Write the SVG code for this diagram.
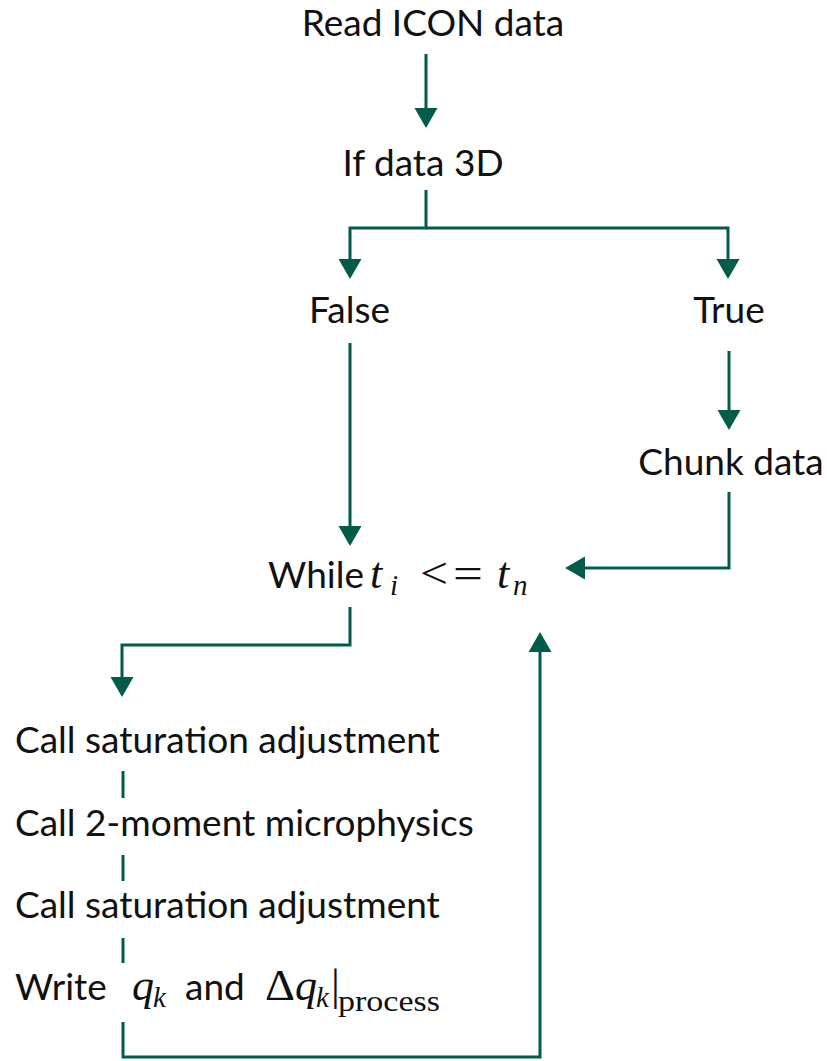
<svg xmlns="http://www.w3.org/2000/svg" width="827" height="1061" viewBox="0 0 827 1061">
<style>
.lbl{font-family:Lato,"Noto Sans","Liberation Sans",sans-serif;font-size:37px;fill:#111}
.m{font-family:"Liberation Serif","DejaVu Serif",serif;fill:#111;font-size:44px}
.s{font-size:29px}
.mi{font-style:italic}
.c{fill:none;stroke:#035c4a;stroke-width:3}
</style>
<defs>
<marker id="ah" markerUnits="userSpaceOnUse" markerWidth="20" markerHeight="24" refX="10" refY="11.5" orient="auto">
<path d="M0,0 L20,11.5 L0,23 z" fill="#035c4a"/>
</marker>
</defs>
<rect width="827" height="1061" fill="#fff"/>
<g id="connectors">
<path class="c" d="M426 54 V118" marker-end="url(#ah)"/>
<path class="c" d="M426 190 V228 H350 V269" marker-end="url(#ah)"/>
<path class="c" d="M426 228 H728 V269" marker-end="url(#ah)"/>
<path class="c" d="M350 343 V536" marker-end="url(#ah)"/>
<path class="c" d="M729 351 V420" marker-end="url(#ah)"/>
<path class="c" d="M729 492 V568 H575" marker-end="url(#ah)"/>
<path class="c" d="M350 607 V645 H122 V687" marker-end="url(#ah)"/>
<path class="c" d="M123 771 V798"/>
<path class="c" d="M123 855 V881"/>
<path class="c" d="M123 938 V963"/>
<path class="c" d="M123 1022 V1057 H540 V642" marker-end="url(#ah)"/>
</g>
<g id="read"><text class="lbl" x="433" y="36" text-anchor="middle">Read ICON data</text></g>
<g id="if3d"><text class="lbl" x="423" y="176" text-anchor="middle">If data 3D</text></g>
<g id="false"><text class="lbl" x="349.5" y="323" text-anchor="middle">False</text></g>
<g id="true"><text class="lbl" x="729" y="323" text-anchor="middle">True</text></g>
<g id="chunk"><text class="lbl" x="731" y="475" text-anchor="middle">Chunk data</text></g>
<g id="while">
<text class="lbl" x="268" y="588">While</text>
<text class="m mi" x="370" y="588">t</text>
<text class="m mi s" x="390" y="595">i</text>
<text class="m" x="420" y="588" textLength="28" lengthAdjust="spacingAndGlyphs">&lt;</text>
<text class="m" x="453" y="588" textLength="30" lengthAdjust="spacingAndGlyphs">=</text>
<text class="m mi" x="497" y="588">t</text>
<text class="m mi s" x="513" y="595">n</text>
</g>
<g id="sat1"><text class="lbl" x="15" y="753">Call saturation adjustment</text></g>
<g id="micro"><text class="lbl" x="15" y="836">Call 2-moment microphysics</text></g>
<g id="sat2"><text class="lbl" x="15" y="918">Call saturation adjustment</text></g>
<g id="write">
<text class="lbl" x="15" y="1000">Write</text>
<text class="m mi" x="132" y="1000">q</text>
<text class="m mi s" x="153" y="1007">k</text>
<text class="lbl" x="185" y="1000">and</text>
<text class="m" x="265" y="1000" textLength="30" lengthAdjust="spacingAndGlyphs">Δ</text>
<text class="m mi" x="295" y="1000">q</text>
<text class="m mi s" x="316" y="1007">k</text>
<text class="m" x="331" y="1000">|</text>
<text class="m s" x="338" y="1011" textLength="102" lengthAdjust="spacingAndGlyphs">process</text>
</g>
</svg>
